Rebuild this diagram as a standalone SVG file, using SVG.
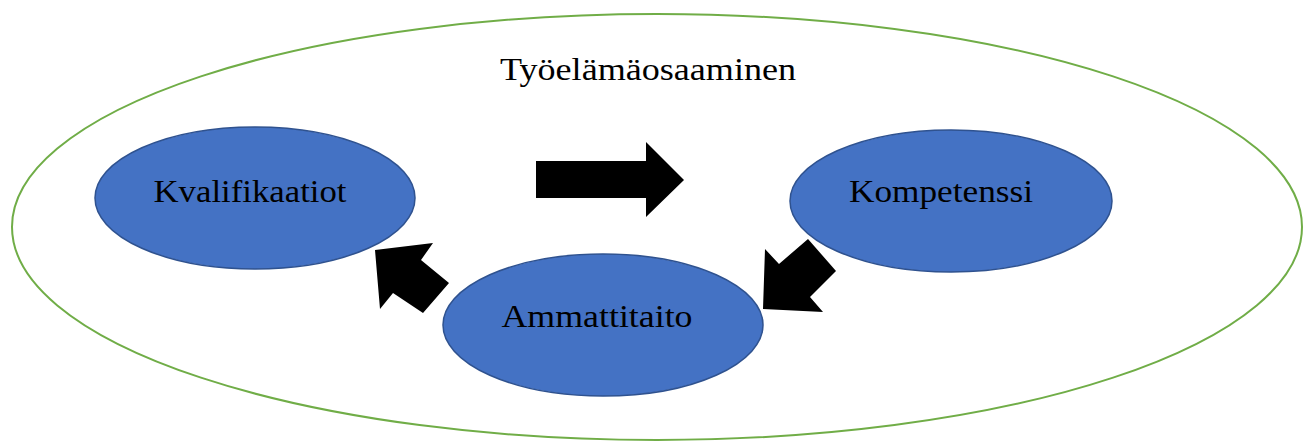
<svg xmlns="http://www.w3.org/2000/svg" width="1308" height="441" viewBox="0 0 1308 441">
<style>
.node{fill:#4472C4;stroke:#2F528F;stroke-width:1.5}
.lbl{font-family:"Palatino Linotype","Book Antiqua","Liberation Serif",serif;font-size:31px;fill:#000;text-anchor:middle}
.arr{fill:#000}
</style>
<rect width="1308" height="441" fill="#fff"/>
<g id="outer">
<ellipse cx="657" cy="227" rx="645" ry="213" fill="none" stroke="#70AD47" stroke-width="2"/>
<text class="lbl" x="648" y="80" textLength="296" lengthAdjust="spacingAndGlyphs">Työelämäosaaminen</text>
</g>
<g id="kvalifikaatiot">
<ellipse class="node" cx="255" cy="198" rx="160" ry="71"/>
<text class="lbl" x="250" y="202" textLength="193" lengthAdjust="spacingAndGlyphs">Kvalifikaatiot</text>
</g>
<g id="kompetenssi">
<ellipse class="node" cx="951" cy="201" rx="161" ry="71"/>
<text class="lbl" x="941" y="202" textLength="184" lengthAdjust="spacingAndGlyphs">Kompetenssi</text>
</g>
<g id="ammattitaito">
<ellipse class="node" cx="603" cy="325" rx="160" ry="71"/>
<text class="lbl" x="597" y="327" textLength="191" lengthAdjust="spacingAndGlyphs">Ammattitaito</text>
</g>
<g id="connectors">
<polygon class="arr" points="536,161 646,161 646,142 684,180 646,217 646,198 536,198"/>
<polygon class="arr" points="808,239 836,271 810,297 823,312 763,309 765,249 779,264"/>
<polygon class="arr" points="449,283 423,313 393,293 380,309 375,250 433,243 421,260"/>
</g>
</svg>
